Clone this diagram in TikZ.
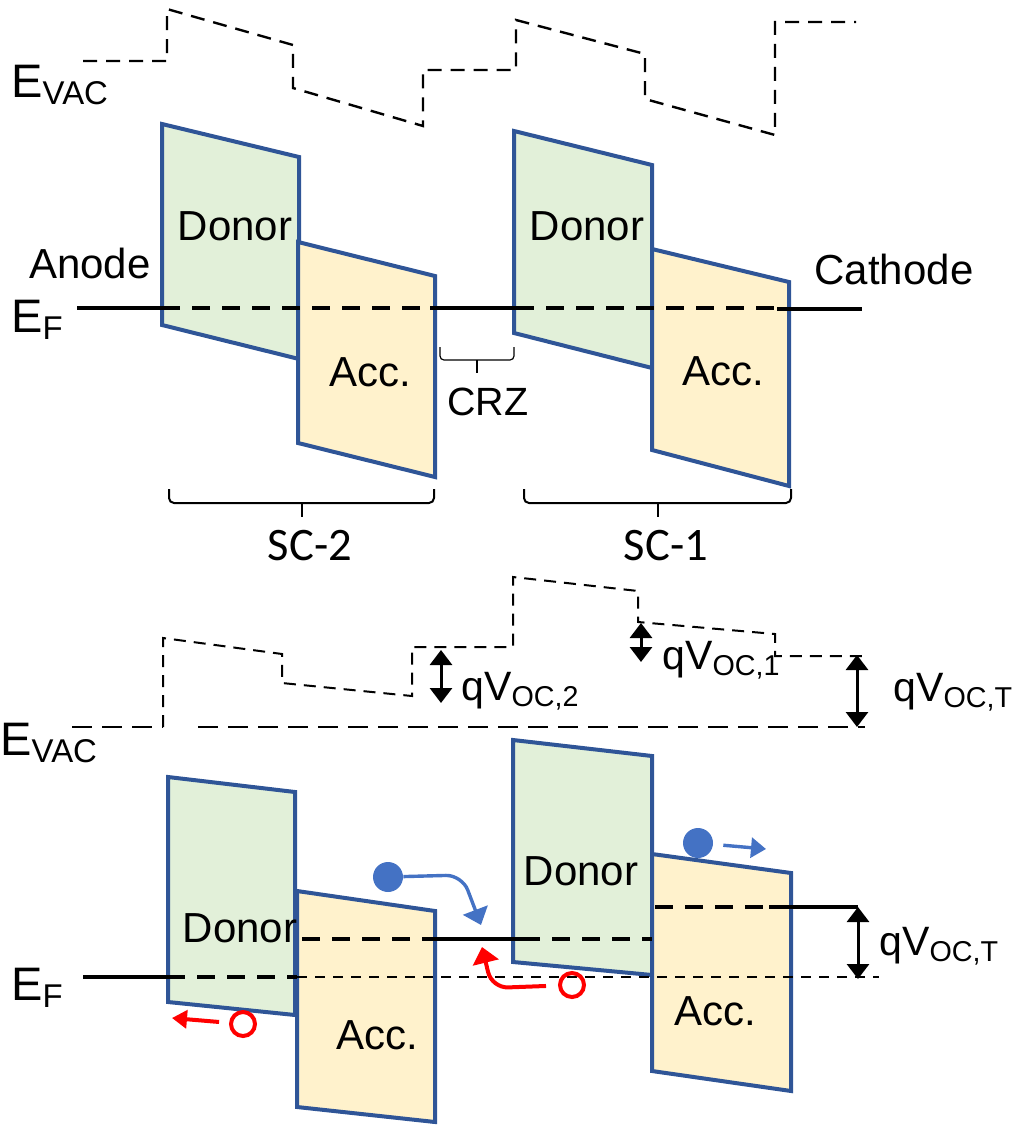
\documentclass[tikz,border=0pt]{standalone}
\usepackage{fontspec}
\setmainfont{Liberation Sans}
\newfontfamily\calfont{Carlito}
\usetikzlibrary{arrows.meta}
\definecolor{boxblue}{HTML}{2F5597}
\definecolor{donfill}{HTML}{E2F0D9}
\definecolor{accfill}{HTML}{FFF2CC}
\definecolor{eblue}{HTML}{4472C4}

\begin{document}
\begin{tikzpicture}[x=0.5pt,y=-0.5pt,>=Triangle,
  vac/.style={line width=1.2pt,dash pattern=on 7pt off 4.5pt},
  vacthin/.style={line width=1pt,dash pattern=on 6pt off 4pt},
  vaclong/.style={line width=1pt,dash pattern=on 10pt off 5pt},
  fermi/.style={line width=2pt},
  fermidash/.style={line width=2pt,dash pattern=on 9pt off 6pt},
  fermithin/.style={line width=1pt,dash pattern=on 5pt off 4pt},
  donor/.style={draw=boxblue,fill=donfill,line width=2pt},
  acc/.style={draw=boxblue,fill=accfill,line width=2pt},
  lab/.style={inner sep=0pt,anchor=base,font=\fontsize{21}{25}\selectfont},
  elab/.style={inner sep=0pt,anchor=base west,font=\fontsize{23.5}{28}\selectfont},
  qlab/.style={inner sep=0pt,anchor=base west,font=\fontsize{20.5}{25}\selectfont},
  sclab/.style={inner sep=0pt,anchor=base,font=\calfont\fontsize{23.3}{28}\selectfont},
  vdim/.style={<->,line width=1.5pt,>={Triangle[width=11pt,length=7.5pt]}},
  electron/.style={circle,fill=eblue,minimum size=15pt,inner sep=0pt},
  hole/.style={circle,draw=red,line width=2pt,minimum size=12pt,inner sep=0pt},
  earrow/.style={->,eblue,line width=1.7pt,>={Triangle[width=13pt,length=8pt]}},
  harrow/.style={->,red,line width=2pt,>={Triangle[width=13pt,length=8pt]}}]
  \useasboundingbox (0,0) rectangle (1019,1125);

  % top: before contact
  \draw[vac] (83,61) -- (167,61) -- (167,9) -- (293,45) -- (293,88) -- (423,126)
    -- (423,70) -- (516,70) -- (516,20) -- (645,54) -- (645,99) -- (775,135)
    -- (775,22) -- (856,22);
  \draw[donor] (162,124) -- (299,157) -- (299,359) -- (162,325) -- cycle;
  \draw[acc] (298,242) -- (435,276) -- (435,477) -- (298,443) -- cycle;
  \draw[donor] (514,131) -- (652,165) -- (652,368) -- (514,333) -- cycle;
  \draw[acc] (652,249) -- (789,282) -- (789,486) -- (652,450) -- cycle;
  \draw[fermi] (77,308) -- (162,308);
  \draw[fermidash] (162,308) -- (430,308);
  \draw[fermi] (430,308) -- (516,308);
  \draw[fermidash] (516,308) -- (777,308);
  \draw[fermi] (777,309) -- (862,309);

  \node[elab] (evac1) at (11,97) {E\textsubscript{VAC}};
  \node[lab] (anode) at (90,278) {Anode};
  \node[elab] (ef1) at (11,332) {E\textsubscript{F}};
  \node[lab] (don2) at (235,240) {Donor};
  \node[lab] (acc2) at (370,386) {Acc.};
  \node[lab] (don1) at (587,240) {Donor};
  \node[lab] (acc1) at (723,385) {Acc.};
  \node[lab] (cathode) at (894,284) {Cathode};
  \node[lab,font=\fontsize{19.7}{24}\selectfont] (crz) at (488,415) {CRZ};
  \node[sclab] (sc2) at (310,560) {SC-2};
  \node[sclab] (sc1) at (666,560) {SC-1};

  \foreach \xa/\xb in {169/434,524/791}{
    \draw[line width=1pt,rounded corners=2.5pt] (\xa,489) -- (\xa,503) -- (\xb,503) -- (\xb,489);
    \draw[line width=1pt] ({(\xa+\xb)/2},503) -- ({(\xa+\xb)/2},517);
  }
  \draw[line width=0.6pt,rounded corners=2pt] (440,347) -- (440,360) -- (514,360) -- (514,347);
  \draw[line width=0.6pt] (477,360) -- (477,373);

  % bottom: open circuit
  \draw[vaclong] (72,727) -- (163,727);
  \draw[vacthin] (163,727) -- (163,638) -- (282,654) -- (282,683) -- (412,696)
    -- (412,647) -- (513,647) -- (513,577) -- (638,591) -- (638,622) -- (775,634)
    -- (775,656) -- (865,656);
  \draw[vaclong] (198,727) -- (865,727);

  \draw[donor] (168,777) -- (295,792) -- (295,1015) -- (168,1002) -- cycle;
  \draw[acc] (297,891) -- (435,911) -- (435,1122) -- (297,1107) -- cycle;
  \draw[donor] (513,740) -- (652,756) -- (652,975) -- (513,962) -- cycle;
  \draw[acc] (652,854) -- (791,873) -- (791,1091) -- (652,1071) -- cycle;

  \draw[fermi] (83,977) -- (167,977);
  \draw[fermidash] (167,977) -- (297,977);
  \draw[fermithin] (297,977) -- (879,977);
  \draw[fermidash] (302,939) -- (425,939);
  \draw[fermi] (425,939) -- (522,939);
  \draw[fermidash] (522,939) -- (652,939);
  \draw[fermidash] (655,907) -- (769,907);
  \draw[fermi] (769,907) -- (858,907);

  \coordinate (v2a) at (441,650);
  \coordinate (v2b) at (441,703);
  \coordinate (v1a) at (641,623);
  \coordinate (v1b) at (641,662);
  \coordinate (vta) at (857,655);
  \coordinate (vtb) at (857,727);
  \coordinate (vtc) at (858,907);
  \coordinate (vtd) at (858,979);
  \draw[vdim] (v2a) -- (v2b);
  \draw[vdim] (v1a) -- (v1b);
  \draw[vdim] (vta) -- (vtb);
  \draw[vdim] (vtc) -- (vtd);

  \node[elab] (evac2) at (0,755) {E\textsubscript{VAC}};
  \node[elab] (ef2) at (11,1000) {E\textsubscript{F}};
  \node[lab] (don2b) at (240,942) {Donor};
  \node[lab] (acc2b) at (377,1049) {Acc.};
  \node[lab] (don1b) at (581,885) {Donor};
  \node[lab] (acc1b) at (715,1025) {Acc.};
  \node[qlab] (voc2) at (461,700) {qV\textsubscript{OC,2}};
  \node[qlab] (voc1) at (662,669) {qV\textsubscript{OC,1}};
  \node[qlab] (voct) at (893,701) {qV\textsubscript{OC,T}};
  \node[qlab] (voctb) at (879,955) {qV\textsubscript{OC,T}};

  \node[electron] (e2) at (388,877) {};
  \coordinate (e2end) at (481,925);
  \draw[earrow,rounded corners=8pt] (e2) -- (462,875) -- (e2end);
  \node[electron] (e1) at (698,843) {};
  \coordinate (e1end) at (766,849);
  \draw[earrow,shorten <=5pt,>={Triangle[width=10pt,length=7.5pt]}] (e1) -- (e1end);

  \node[hole] (h2) at (243,1024) {};
  \coordinate (h2end) at (172,1018);
  \draw[harrow,shorten <=5pt,>={Triangle[width=9pt,length=7.5pt]}] (h2) -- (h2end);
  \node[hole] (h1) at (572,985) {};
  \coordinate (h1end) at (482,947);
  \draw[harrow,rounded corners=8pt,shorten <=6pt] (h1) -- (492,988) -- (h1end);
\end{tikzpicture}
\end{document}
